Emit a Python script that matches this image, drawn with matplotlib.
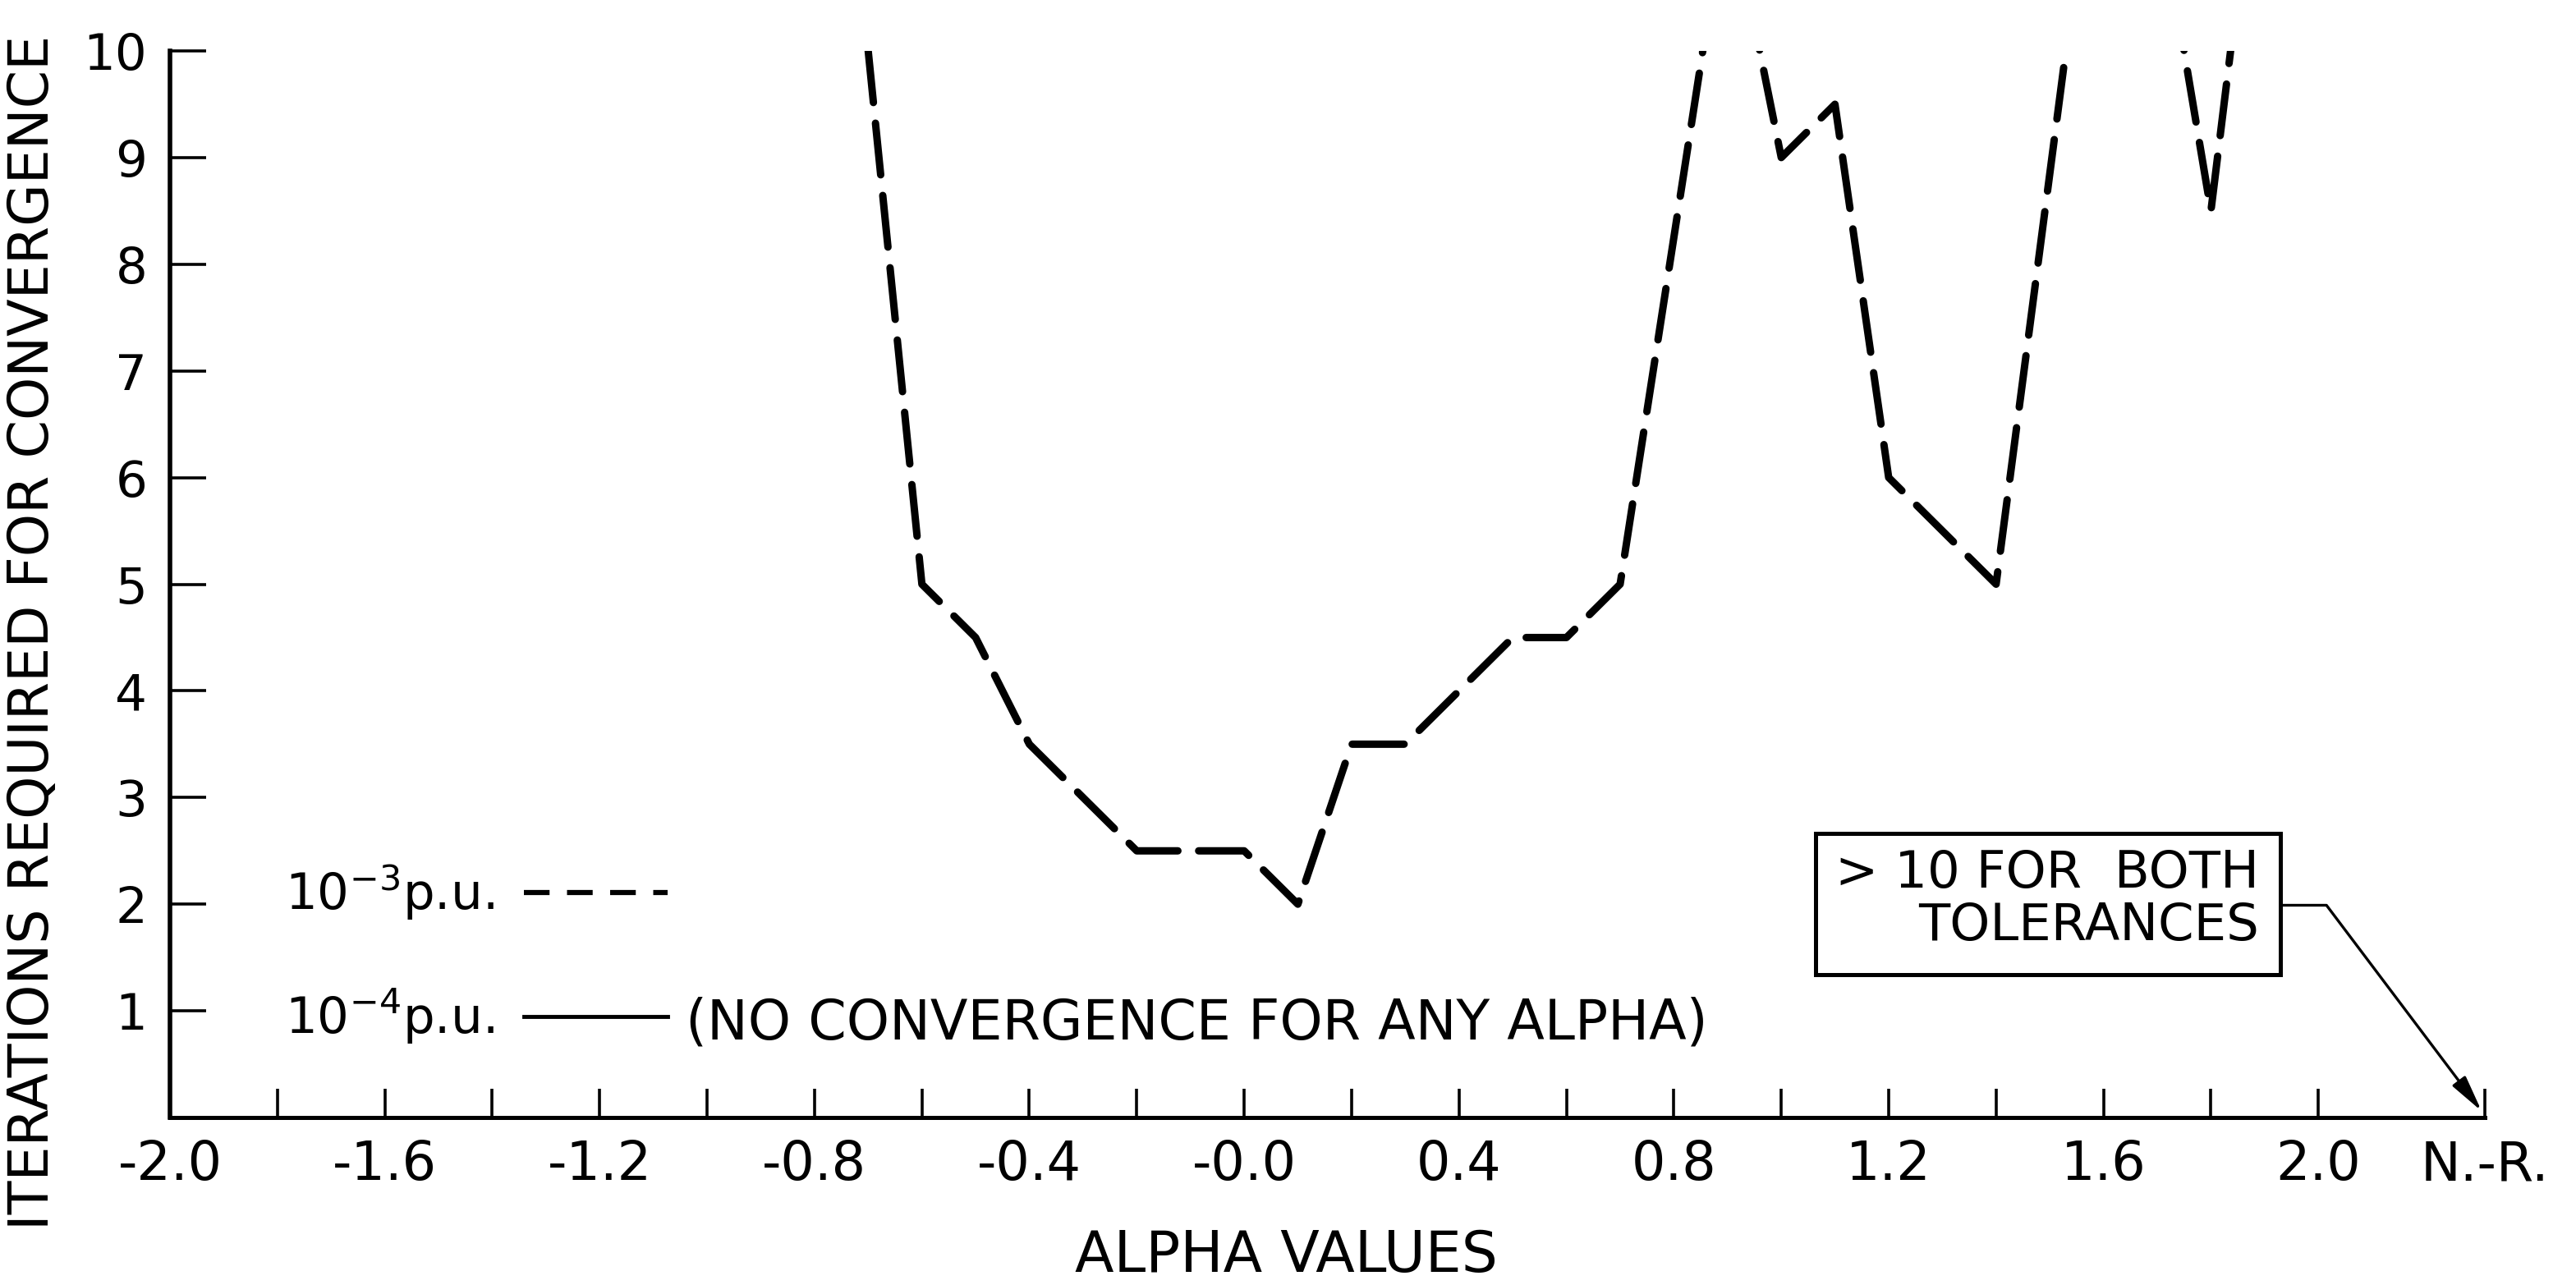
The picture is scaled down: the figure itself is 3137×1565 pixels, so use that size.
import matplotlib
matplotlib.use("Agg")
import matplotlib.pyplot as plt
from matplotlib.lines import Line2D
from matplotlib.patches import Rectangle

plt.rcParams['font.family'] = ['DejaVu Sans']
plt.rcParams['mathtext.fontset'] = 'dejavusans'

# ---- data ----
alpha = [-0.7, -0.6, -0.5, -0.4, -0.3, -0.2, -0.1, 0.0, 0.1, 0.2, 0.3, 0.4,
         0.5, 0.6, 0.7, 0.9, 1.0, 1.1, 1.2, 1.3, 1.4, 1.6, 1.7, 1.8, 1.9]
iterations_1e3 = [10.0, 5.0, 4.5, 3.5, 3.0, 2.5, 2.5, 2.5, 2.0, 3.5, 3.5, 4.0,
                  4.5, 4.5, 5.0, 11.5, 9.0, 9.5, 6.0, 5.5, 5.0, 12.7, 11.5, 8.5, 12.6]
iterations_1e4 = []          # no convergence for any alpha

NR_POS = 2.31                # position of the Newton-Raphson entry on the axis
x_major = [-2.0, -1.6, -1.2, -0.8, -0.4, 0.0, 0.4, 0.8, 1.2, 1.6, 2.0, NR_POS]
x_major_labels = ['-2.0', '-1.6', '-1.2', '-0.8', '-0.4', '-0.0', '0.4', '0.8',
                  '1.2', '1.6', '2.0', 'N.-R.']
x_minor = [-1.8, -1.4, -1.0, -0.6, -0.2, 0.2, 0.6, 1.0, 1.4, 1.8]
y_ticks = [1, 2, 3, 4, 5, 6, 7, 8, 9, 10]
y_tick_labels = ['1', '2', '3', '4', '5', '6', '7', '8', '9', '10']

# ---- figure ----
W, H = 3137, 1565
fig = plt.figure(figsize=(W / 100, H / 100), dpi=100)
ax = fig.add_axes([207 / W, 204 / H, (3026 - 207) / W, (1361 - 62) / H])

ax.plot(alpha, iterations_1e3, color='black', lw=6.5,
        linestyle=(0, (7.0, 2.8)), dash_capstyle='round', solid_joinstyle='round')
ax.plot(alpha[:len(iterations_1e4)], iterations_1e4, color='black', lw=3)

ax.set_xlim(-2.0, NR_POS)
ax.set_ylim(0, 10)

for s in ['top', 'right']:
    ax.spines[s].set_visible(False)
ax.spines['left'].set_bounds(0, 10)
ax.spines['bottom'].set_bounds(-2.0, NR_POS)
ax.spines['left'].set_linewidth(4)
ax.spines['bottom'].set_linewidth(3.6)

ax.set_xticks(x_major)
ax.set_xticklabels(x_major_labels)
ax.set_xticks(x_minor, minor=True)
ax.set_yticks(y_ticks)
ax.set_yticklabels(y_tick_labels)
ax.tick_params(axis='x', which='both', direction='in', length=25, width=2.6,
               labelsize=47, pad=19)
ax.tick_params(axis='y', which='both', direction='in', length=32, width=2.6,
               labelsize=44, pad=20)

ax.set_xlabel('ALPHA VALUES', fontsize=50)
ax.xaxis.label.set_va('center')
ax.xaxis.set_label_coords((1566 - 207) / (3026 - 207), (1361 - 1530) / 1299)
ax.set_ylabel('ITERATIONS REQUIRED FOR CONVERGENCE', fontsize=48)
ax.yaxis.label.set_va('center')
ax.yaxis.set_label_coords((40 - 207) / (3026 - 207), (1361 - 770) / 1299)

# ---- legend ----
h3 = Line2D([], [], color='black', lw=4.5, linestyle=(0, (5.0, 3.4)))
h4 = Line2D([], [], color='black', lw=3.5)
leg = ax.legend([h3, h4], ['10$^{-3}$p.u.', '10$^{-4}$p.u.'], loc='center left',
                bbox_to_anchor=((347 - 207) / (3026 - 207), (1361 - 1163) / 1299),
                markerfirst=False, frameon=False, fontsize=44, handlelength=2.85,
                handletextpad=0.6, labelspacing=1.3, borderpad=0, borderaxespad=0)
ax.text(-1.040, 0.88, '(NO CONVERGENCE FOR ANY ALPHA)', fontsize=48,
        ha='left', va='center')

# ---- annotation box ----
ax.add_patch(Rectangle((1.064, 1.34), 0.866, 1.32, fill=False, lw=3.6,
                       edgecolor='black', clip_on=False))
ax.text(1.889, 2.04, '> 10 FOR  BOTH\nTOLERANCES', fontsize=45, ha='right',
        va='center', multialignment='right', linespacing=1.08)
ax.annotate('', xy=(NR_POS - 0.006, 0.06), xytext=(1.93, 1.99),
            arrowprops=dict(arrowstyle='-|>,head_length=0.9,head_width=0.2',
                            connectionstyle='angle,angleA=0,angleB=-53,rad=0',
                            color='black', lw=2.4, shrinkA=0, shrinkB=0,
                            mutation_scale=30),
            annotation_clip=False)

fig.savefig('out.png', dpi=100, facecolor='white')
